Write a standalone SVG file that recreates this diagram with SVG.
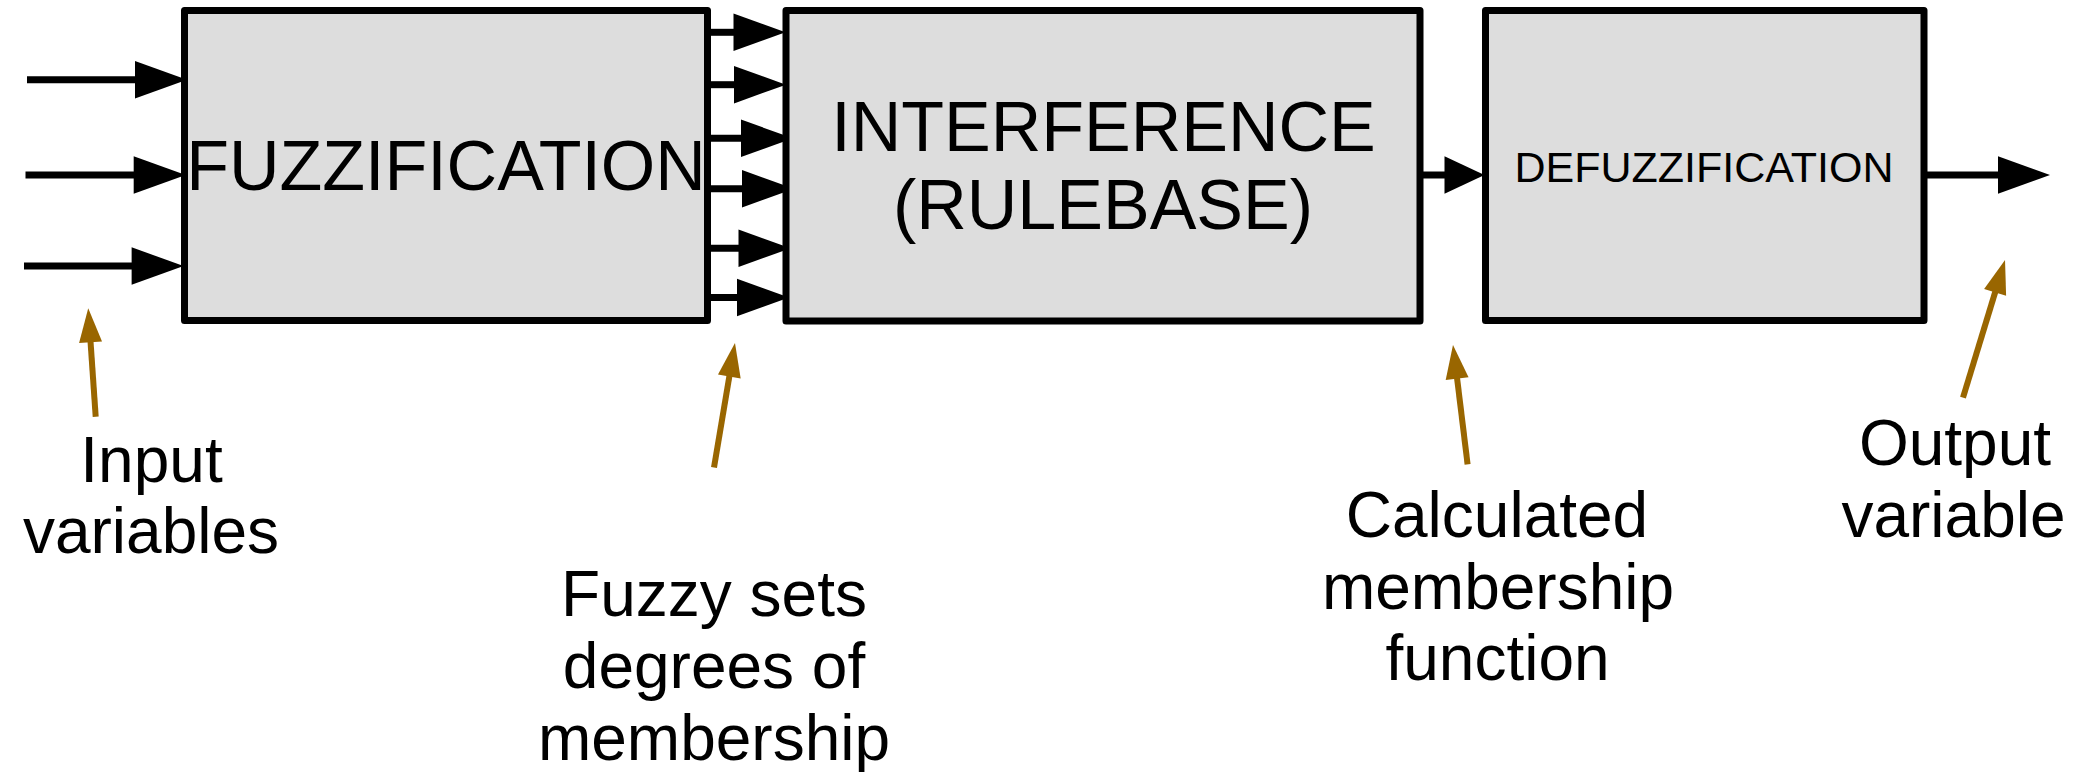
<svg xmlns="http://www.w3.org/2000/svg" width="2081" height="772" viewBox="0 0 2081 772">
  <style>
    .box { fill: #dddddd; stroke: #000000; stroke-width: 7; stroke-linejoin: round; }
    .flow { fill: none; stroke: #000000; stroke-width: 7; marker-end: url(#head); }
    .flow.short { marker-end: url(#head-short); }
    .note { fill: none; stroke: #996600; stroke-width: 6; marker-end: url(#pointer); }
    .title { font-family: "Liberation Sans", Arial, sans-serif; fill: #000000; text-anchor: middle; }
    .label { font-family: "Liberation Sans", Arial, sans-serif; font-size: 64px; fill: #000000; text-anchor: middle; }
  </style>
  <defs>
    <marker id="head" markerUnits="userSpaceOnUse" markerWidth="56" markerHeight="40" refX="1" refY="18.7" orient="auto" overflow="visible">
      <path d="M0,0 L52,18.7 L0,37.4 Z" fill="#000000"/>
    </marker>
    <marker id="head-short" markerUnits="userSpaceOnUse" markerWidth="44" markerHeight="40" refX="1" refY="18.7" orient="auto" overflow="visible">
      <path d="M0,0 L40,18.7 L0,37.4 Z" fill="#000000"/>
    </marker>
    <marker id="pointer" markerUnits="userSpaceOnUse" markerWidth="36" markerHeight="24" refX="1" refY="11.5" orient="auto" overflow="visible">
      <path d="M0,0 L34,11.5 L0,23 Z" fill="#996600"/>
    </marker>
  </defs>

  <rect width="2081" height="772" fill="#ffffff"/>

  <!-- signal flow between the stages -->
  <g id="connectors">
    <!-- crisp inputs -->
    <path class="flow" d="M27,79.7 H136"/>
    <path class="flow" d="M25.5,175 H134.7"/>
    <path class="flow" d="M24,266 H132.6"/>
    <!-- fuzzy sets into the rule base -->
    <path class="flow" d="M707,32.3 H734.5"/>
    <path class="flow" d="M707,84.7 H735"/>
    <path class="flow" d="M707,138.3 H742"/>
    <path class="flow" d="M707,188.7 H743"/>
    <path class="flow" d="M707,248.3 H739.5"/>
    <path class="flow" d="M707,297.5 H738"/>
    <!-- rule base output to defuzzifier -->
    <path class="flow short" d="M1420,175 H1445.5"/>
    <!-- crisp output -->
    <path class="flow" d="M1924,175 H1999"/>

    <!-- annotation pointers -->
    <path class="note" d="M95.7,416.7 L90.5,341.2"/>
    <path class="note" d="M714,467.5 L729.5,375.5"/>
    <path class="note" d="M1467.6,464.3 L1457,377.7"/>
    <path class="note" d="M1963,397.7 L1995.4,291.5"/>
  </g>

  <g id="fuzzification">
    <rect class="box" x="184.5" y="10.5" width="523" height="310"/>
    <text class="title" x="446" y="190" font-size="70">FUZZIFICATION</text>
  </g>

  <g id="inference">
    <rect class="box" x="786" y="10.5" width="634" height="310.5"/>
    <text class="title" x="1103.5" y="151" font-size="70">INTERFERENCE</text>
    <text class="title" x="1103" y="229" font-size="70">(RULEBASE)</text>
  </g>

  <g id="defuzzification">
    <rect class="box" x="1485.5" y="10.5" width="438.5" height="310"/>
    <text class="title" x="1704" y="182" font-size="43">DEFUZZIFICATION</text>
  </g>

  <g id="label-input">
    <text class="label" x="151.5" y="482">Input</text>
    <text class="label" x="151" y="553">variables</text>
  </g>

  <g id="label-fuzzy-sets">
    <text class="label" x="714" y="616">Fuzzy sets</text>
    <text class="label" x="714" y="688">degrees of</text>
    <text class="label" x="714" y="760">membership</text>
  </g>

  <g id="label-membership">
    <text class="label" x="1497" y="537">Calculated</text>
    <text class="label" x="1498" y="608.5">membership</text>
    <text class="label" x="1497.5" y="680">function</text>
  </g>

  <g id="label-output">
    <text class="label" x="1955" y="465">Output</text>
    <text class="label" x="1953.5" y="537">variable</text>
  </g>
</svg>
